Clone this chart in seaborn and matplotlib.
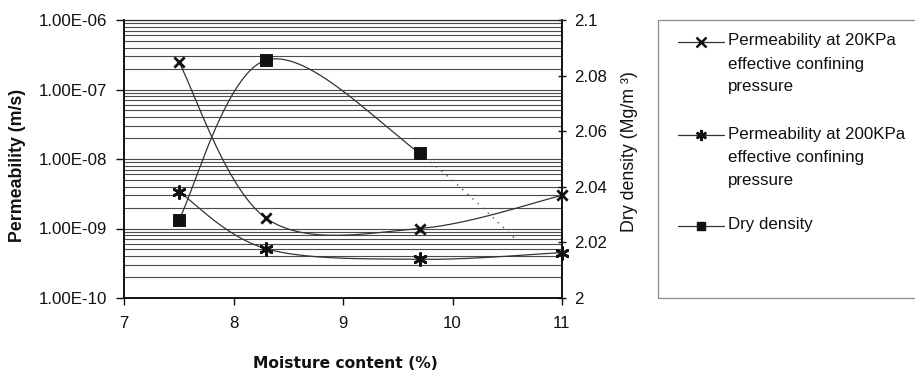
import numpy as np
import matplotlib
matplotlib.use("Agg")
import matplotlib.pyplot as plt
import seaborn as sns
from matplotlib.lines import Line2D
from matplotlib.patches import Rectangle
from matplotlib.ticker import FixedLocator, LogLocator, NullFormatter

# ---- data -------------------------------------------------------------
moisture = [7.5, 8.3, 9.7, 11.0]
perm_20kpa = [2.5e-7, 1.4e-9, 1.0e-9, 3.0e-9]
perm_200kpa = [3.4e-9, 5.1e-10, 3.6e-10, 4.5e-10]
dry_density = [2.028, 2.0856, 2.052, 2.005]
density_marked = 3      # last density reading only appears as a faint dotted tail
density_tail_end = 10.6

moisture_ticks = [7, 8, 9, 10, 11]
perm_ticks = [1e-10, 1e-9, 1e-8, 1e-7, 1e-6]
perm_labels = ["1.00E-10", "1.00E-09", "1.00E-08", "1.00E-07", "1.00E-06"]
density_ticks = [2.0, 2.02, 2.04, 2.06, 2.08, 2.1]
density_labels = ["2", "2.02", "2.04", "2.06", "2.08", "2.1"]

legend_labels = [
    ["Permeability at 20KPa", "effective confining", "pressure"],
    ["Permeability at 200KPa", "effective confining", "pressure"],
    ["Dry density"],
]

# ---- style ------------------------------------------------------------
sns.set_style("white")
plt.rcParams["font.family"] = ["Liberation Sans", "DejaVu Sans"]
FS = 12.2
W, H = 915, 372
INK = "#111111"
STAR = (6, 2, 0)   # six-spoke asterisk marker


def fx(px):
    return px / W


def fy(py):
    return 1 - py / H


def smooth(xs, ys, n=80):
    """Bezier smoothing through the points (spreadsheet-style smoothed line)."""
    p = np.column_stack([xs, ys]).astype(float)
    ext = np.vstack([p[0], p, p[-1]])
    t = np.linspace(0, 1, n)[:, None]
    parts = []
    for i in range(len(p) - 1):
        p0, p1, p2, p3 = ext[i], ext[i + 1], ext[i + 2], ext[i + 3]
        b1 = p1 + (p2 - p0) / 6
        b2 = p2 - (p3 - p1) / 6
        seg = ((1 - t) ** 3 * p1 + 3 * (1 - t) ** 2 * t * b1
               + 3 * (1 - t) * t ** 2 * b2 + t ** 3 * p2)
        parts.append(seg if i == 0 else seg[1:])
    s = np.vstack(parts)
    return s[:, 0], s[:, 1]


fig = plt.figure(figsize=(W / 100, H / 100), dpi=100)
ax = fig.add_axes([fx(124), fy(298), fx(562) - fx(124), fy(20) - fy(298)])
ax2 = ax.twinx()

# ---- permeability (left, log axis) -----------------------------------
ax.set_yscale("log")
ax.set_xlim(7, 11)
ax.set_ylim(1e-10, 1e-6)

for vals, marker, ms in [(perm_20kpa, "x", 55), (perm_200kpa, STAR, 75)]:
    sx, sy = smooth(moisture, np.log10(vals))
    sns.lineplot(x=sx, y=10 ** sy, sort=False, estimator=None, ax=ax,
                 color="#333333", lw=0.9, zorder=3)
    sns.scatterplot(x=moisture, y=vals, marker=marker, s=ms, color=INK,
                    linewidth=2.0, ax=ax, zorder=4, clip_on=False)

ax.yaxis.set_major_locator(FixedLocator(perm_ticks))
ax.set_yticklabels(perm_labels)
ax.yaxis.set_minor_locator(LogLocator(base=10, subs=np.arange(2, 10)))
ax.yaxis.set_minor_formatter(NullFormatter())
ax.set_xticks(moisture_ticks)
ax.set_xticklabels([str(v) for v in moisture_ticks])
ax.grid(which="both", axis="y", color="#2a2a2a", lw=0.8, alpha=0.85)
ax.grid(which="both", axis="x", visible=False)
ax.set_axisbelow(True)
ax.tick_params(axis="y", which="major", direction="out", length=6, width=1,
               pad=6, labelsize=FS, colors=INK, left=True)
ax.tick_params(axis="y", which="minor", length=0)
ax.tick_params(axis="x", direction="out", length=5, width=1, pad=8,
               labelsize=FS, colors=INK, bottom=True)

# ---- dry density (right axis) ----------------------------------------
ax2.set_ylim(2.0, 2.1)
dx, dy = smooth(moisture, dry_density)
solid = dx <= moisture[density_marked - 1]
tail = (dx >= moisture[density_marked - 1]) & (dx <= density_tail_end)
sns.lineplot(x=dx[solid], y=dy[solid], sort=False, estimator=None, ax=ax2,
             color="#333333", lw=0.9, zorder=3)
ax2.plot(dx[tail], dy[tail], color="#555555", lw=1.0, ls=(0, (1, 4)), zorder=3)
sns.scatterplot(x=moisture[:density_marked], y=dry_density[:density_marked],
                marker="s", s=70, color=INK, edgecolor=INK, ax=ax2, zorder=4)
ax2.yaxis.set_major_locator(FixedLocator(density_ticks))
ax2.set_yticklabels(density_labels)
ax2.tick_params(axis="y", direction="inout", length=6, width=1, pad=6,
                labelsize=FS, colors=INK, right=True)
ax2.grid(False)

for a in (ax, ax2):
    for side in ("left", "bottom", "right"):
        a.spines[side].set_visible(True)
        a.spines[side].set_color(INK)
        a.spines[side].set_linewidth(1.2)
    a.spines["top"].set_color("#2a2a2a")
    a.spines["top"].set_linewidth(0.8)
    a.set_xlabel("")
    a.set_ylabel("")

# ---- axis titles ------------------------------------------------------
fig.text(fx(345), fy(363), "Moisture content (%)", ha="center", va="center",
         fontsize=11.2, fontweight="bold", color=INK, family="DejaVu Sans")
fig.text(fx(18), fy(165), "Permeability (m/s)", ha="center", va="center",
         rotation=90, fontsize=12.8, fontweight="bold", color=INK)
fig.text(fx(630), fy(152), "Dry density (Mg/m \u00b3)", ha="center", va="center",
         rotation=90, fontsize=12.8, color=INK)

# ---- legend box -------------------------------------------------------
fig.patches.append(Rectangle((fx(658), fy(298)), fx(940) - fx(658),
                             fy(20) - fy(298), transform=fig.transFigure,
                             fill=False, edgecolor="#8a8a8a", lw=0.9))
entry_rows = [42, 135, 226]
entry_markers = [("x", 7, 1.8), (STAR, 8, 1.8), ("s", 6, 1.0)]
for row, lines, (mk, msz, mew) in zip(entry_rows, legend_labels, entry_markers):
    fig.add_artist(Line2D([fx(678), fx(724)], [fy(row), fy(row)],
                          transform=fig.transFigure, color="#333333", lw=0.9))
    fig.add_artist(Line2D([fx(701)], [fy(row)], transform=fig.transFigure,
                          marker=mk, ms=msz, mew=mew, color=INK, mfc=INK))
    for k, line in enumerate(lines):
        fig.text(fx(728), fy(row - 1 + 23 * k), line, ha="left", va="center",
                 fontsize=FS, color=INK)

fig.savefig("out.png", dpi=100)
